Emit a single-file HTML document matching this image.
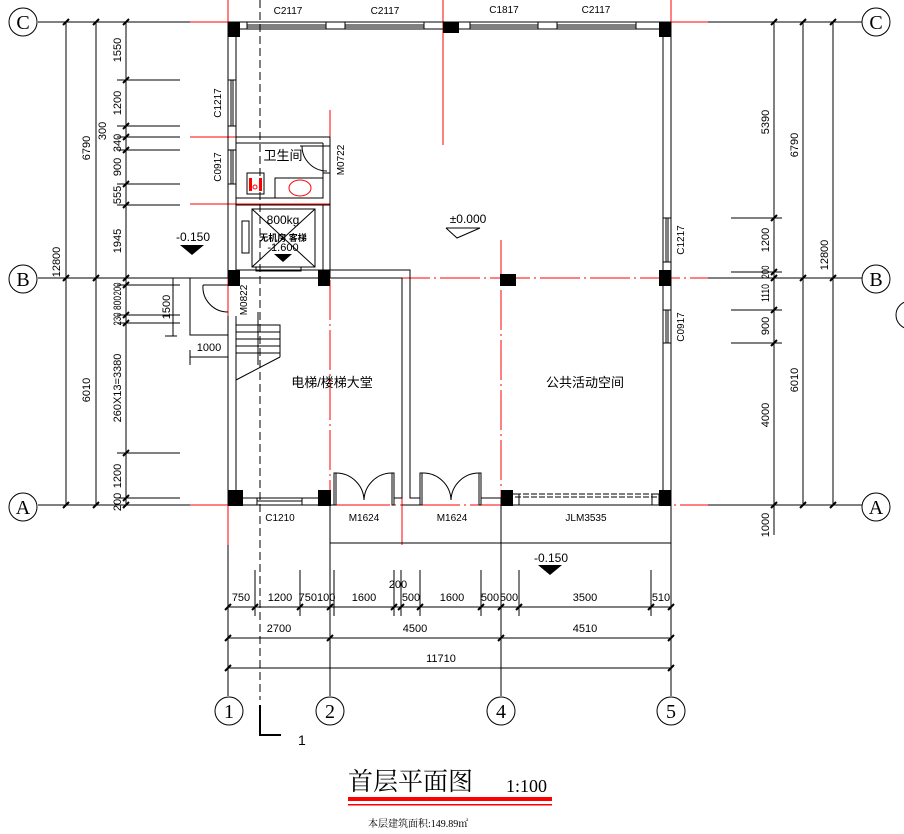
<!DOCTYPE html>
<html><head><meta charset="utf-8"><style>
html,body{margin:0;padding:0;background:#fff;}
svg{display:block;}
text{font-family:"Liberation Sans","Noto Sans CJK SC",sans-serif;fill:#000;}
.d{font-family:"Liberation Sans",sans-serif;font-size:11px;}
</style></head><body>
<svg width="904" height="834" viewBox="0 0 904 834" xmlns="http://www.w3.org/2000/svg">
<g stroke="#f00" stroke-width="1" fill="none">
<line x1="228" y1="0" x2="228" y2="545"/>
<line x1="671" y1="0" x2="671" y2="545"/>
<line x1="443" y1="0" x2="443" y2="145"/>
<line x1="330" y1="110" x2="330" y2="205"/>
<line x1="330" y1="280" x2="330" y2="505" stroke-dasharray="40,4,2,4"/>
<line x1="501" y1="240" x2="501" y2="505" stroke-dasharray="40,4,2,4"/>
<line x1="402" y1="280" x2="402" y2="545"/>
<line x1="190" y1="22" x2="228" y2="22"/>
<line x1="671" y1="22" x2="708" y2="22"/>
<line x1="190" y1="137" x2="330" y2="137"/>
<line x1="190" y1="204" x2="330" y2="204"/>
<line x1="240" y1="278" x2="708" y2="278" stroke-dasharray="40,4,2,4"/>
<line x1="190" y1="505" x2="708" y2="505" stroke-dasharray="60,4,2,4"/>
</g>
<line x1="260" y1="0" x2="260" y2="700" stroke="#000" stroke-dasharray="8,4"/>
<polyline points="260,705 260,735 281,735" stroke="#000" stroke-width="2" fill="none"/>
<text x="298" y="745" font-size="14">1</text>
<g stroke="#000" stroke-width="1" fill="none">
<line x1="228" y1="22" x2="671" y2="22"/><line x1="228" y1="29" x2="671" y2="29"/>
<line x1="228" y1="22" x2="228" y2="278"/><line x1="236" y1="22" x2="236" y2="278"/>
<line x1="663" y1="22" x2="663" y2="505"/><line x1="671" y1="22" x2="671" y2="505"/>
<line x1="228" y1="316" x2="228" y2="505"/><line x1="236" y1="316" x2="236" y2="505"/>
<line x1="228" y1="498" x2="330" y2="498"/><line x1="228" y1="505" x2="330" y2="505"/>
<rect x="247" y="22" width="79" height="7"/><line x1="247" y1="25" x2="326" y2="25"/><line x1="247" y1="27" x2="326" y2="27"/>
<rect x="345" y="22" width="79" height="7"/><line x1="345" y1="25" x2="424" y2="25"/><line x1="345" y1="27" x2="424" y2="27"/>
<rect x="470" y="22" width="68" height="7"/><line x1="470" y1="25" x2="538" y2="25"/><line x1="470" y1="27" x2="538" y2="27"/>
<rect x="557" y="22" width="79" height="7"/><line x1="557" y1="25" x2="636" y2="25"/><line x1="557" y1="27" x2="636" y2="27"/>
<rect x="228" y="80" width="8" height="46"/><line x1="231" y1="80" x2="231" y2="126"/><line x1="233" y1="80" x2="233" y2="126"/>
<rect x="228" y="150" width="8" height="34"/><line x1="231" y1="150" x2="231" y2="184"/><line x1="233" y1="150" x2="233" y2="184"/>
<rect x="663" y="218" width="8" height="44"/><line x1="666" y1="218" x2="666" y2="262"/><line x1="668" y1="218" x2="668" y2="262"/>
<rect x="663" y="310" width="8" height="33"/><line x1="666" y1="310" x2="666" y2="343"/><line x1="668" y1="310" x2="668" y2="343"/>
<rect x="257" y="498" width="45" height="7"/><line x1="257" y1="501" x2="302" y2="501"/>
<line x1="236" y1="137" x2="330" y2="137"/><line x1="236" y1="143" x2="323" y2="143"/>
<line x1="323" y1="143" x2="323" y2="198"/><line x1="330" y1="137" x2="330" y2="278"/>
<line x1="236" y1="198" x2="323" y2="198"/><line x1="236" y1="205" x2="330" y2="205"/>
<line x1="300" y1="146" x2="330" y2="146"/>
<path d="M302,146 A25,25 0 0 0 327,171"/><line x1="323" y1="173" x2="330" y2="173"/>
<rect x="275" y="178" width="48" height="20"/>
<rect x="247" y="173" width="17" height="21"/>
<line x1="323" y1="205" x2="323" y2="270"/>
<rect x="252" y="209" width="63" height="58"/>
<line x1="252" y1="209" x2="315" y2="267"/><line x1="315" y1="209" x2="252" y2="267"/>
<rect x="242" y="221" width="7" height="32"/>
<line x1="236" y1="270" x2="330" y2="270"/>
<rect x="256" y="267" width="45" height="4"/>
<line x1="236" y1="278" x2="330" y2="278"/>
<polyline points="330,270 410,270 410,498 420,498"/>
<polyline points="330,278 402,278 402,498 394,498"/>
<line x1="402" y1="505" x2="420" y2="505"/><line x1="420" y1="498" x2="420" y2="505"/>
<line x1="330" y1="505" x2="334" y2="505"/>
<rect x="334" y="473" width="2" height="32"/><rect x="392" y="473" width="2" height="32"/>
<path d="M336,473 A28,28 0 0 1 364,500"/><path d="M392,473 A28,28 0 0 0 364,500"/>
<rect x="420" y="473" width="2" height="32"/><rect x="479" y="473" width="2" height="32"/>
<path d="M422,473 A28,28 0 0 1 451,500"/><path d="M479,473 A28,28 0 0 0 451,500"/>
<polyline points="481,498 501,498 501,505"/>
<line x1="515" y1="494" x2="659" y2="494" stroke-dasharray="6,2"/>
<line x1="515" y1="497" x2="659" y2="497" stroke-dasharray="6,2"/>
<rect x="512" y="494" width="7" height="11"/><rect x="652" y="494" width="7" height="11"/>
<line x1="512" y1="505" x2="663" y2="505"/>
<polyline points="228,278 190,278 190,335 228,335"/>
<path d="M203,285 A25,25 0 0 0 228,312"/><line x1="203" y1="285" x2="228" y2="285"/>
<polyline points="236,325 280,325 280,357"/>
<line x1="236" y1="332" x2="280" y2="332"/><line x1="236" y1="339" x2="280" y2="339"/>
<line x1="236" y1="346" x2="280" y2="346"/><line x1="236" y1="353" x2="280" y2="353"/>
<line x1="280" y1="357" x2="236" y2="380"/>
<line x1="258" y1="312" x2="258" y2="365"/>
<line x1="330" y1="505" x2="330" y2="545"/><line x1="330" y1="543" x2="671" y2="543"/>
<line x1="671" y1="505" x2="671" y2="545"/><line x1="501" y1="505" x2="501" y2="696"/>
<line x1="330" y1="545" x2="330" y2="696"/>
<line x1="228" y1="545" x2="228" y2="696"/><line x1="671" y1="545" x2="671" y2="696"/>
</g>
<g fill="#f00">
<rect x="249" y="178" width="3" height="13"/><rect x="259" y="178" width="3" height="13"/>
</g>
<ellipse cx="300" cy="188" rx="11" ry="8" fill="none" stroke="#f00"/>
<circle cx="255" cy="187" r="2" fill="none" stroke="#f00"/>
<g fill="#000">
<rect x="228" y="22" width="12" height="15"/><rect x="443" y="22" width="16" height="11"/><rect x="659" y="22" width="12" height="15"/>
<rect x="228" y="270" width="12" height="16"/><rect x="318" y="270" width="12" height="16"/><rect x="500" y="274" width="16" height="12"/><rect x="659" y="270" width="12" height="16"/>
<rect x="228" y="490" width="15" height="16"/><rect x="318" y="490" width="13" height="16"/><rect x="501" y="490" width="12" height="16"/><rect x="659" y="490" width="12" height="16"/>
<polygon points="274,254 292,254 283,262"/>
<polygon points="180,245 204,245 192,255"/>
<polygon points="538,565 562,565 550,575"/>
</g>
<polyline points="446,228 480,228 457,238 446,228" fill="none" stroke="#000"/>
<g stroke="#000" stroke-width="1" fill="none">
<line x1="38" y1="22" x2="190" y2="22"/><line x1="38" y1="278" x2="190" y2="278"/><line x1="38" y1="505" x2="190" y2="505"/>
<line x1="708" y1="22" x2="862" y2="22"/><line x1="708" y1="278" x2="862" y2="278"/><line x1="708" y1="505" x2="862" y2="505"/>
<line x1="66" y1="22" x2="66" y2="505"/><line x1="96" y1="22" x2="96" y2="505"/><line x1="126" y1="22" x2="126" y2="505"/>
<line x1="774" y1="22" x2="774" y2="535"/><line x1="803" y1="22" x2="803" y2="505"/><line x1="833" y1="22" x2="833" y2="505"/>
<path d="M117,80H180M117,126H180M117,137H180M117,150H180M117,184H180M117,205H180M117,285H180M117,315H180M117,323H180M117,453H180M117,498H180"/>
<path d="M731,218H782M731,272H782M731,310H782M731,343H782"/>
<line x1="173" y1="278" x2="173" y2="336"/><line x1="165" y1="336" x2="177" y2="336"/>
<line x1="190" y1="357" x2="228" y2="357"/><line x1="190" y1="350" x2="190" y2="365"/>
<line x1="228" y1="607" x2="671" y2="607"/><line x1="228" y1="638" x2="671" y2="638"/><line x1="228" y1="668" x2="671" y2="668"/>
<path d="M255,570V616M300,570V616M334,570V616M394,570V616M401,570V616M420,570V616M481,570V616M519,570V616M651,570V616"/>
</g>
<g stroke="#000" stroke-width="2">
<path d="M63,25l6,-6M93,25l6,-6M123,25l6,-6M63,281l6,-6M93,281l6,-6M123,281l6,-6M63,508l6,-6M93,508l6,-6M123,508l6,-6"/>
<path d="M123,83l6,-6M123,129l6,-6M123,140l6,-6M123,153l6,-6M123,187l6,-6M123,208l6,-6M123,288l6,-6M123,318l6,-6M123,326l6,-6M123,456l6,-6M123,501l6,-6"/>
<path d="M771,25l6,-6M800,25l6,-6M830,25l6,-6M771,281l6,-6M800,281l6,-6M830,281l6,-6M771,508l6,-6M800,508l6,-6M830,508l6,-6M771,221l6,-6M771,275l6,-6M771,313l6,-6M771,346l6,-6"/>
<path d="M225,610l6,-6M252,610l6,-6M297,610l6,-6M327,610l6,-6M391,610l6,-6M398,610l6,-6M417,610l6,-6M478,610l6,-6M498,610l6,-6M516,610l6,-6M648,610l6,-6M668,610l6,-6"/>
<path d="M225,641l6,-6M327,641l6,-6M498,641l6,-6M668,641l6,-6M225,671l6,-6M668,671l6,-6"/>
</g>
<g fill="none" stroke="#000">
<circle cx="23" cy="22" r="14"/><circle cx="23" cy="279" r="14"/><circle cx="23" cy="507" r="14"/>
<circle cx="876" cy="22" r="14"/><circle cx="876" cy="279" r="14"/><circle cx="876" cy="507" r="14"/>
<circle cx="229" cy="711" r="14"/><circle cx="330" cy="711" r="14"/><circle cx="501" cy="711" r="14"/><circle cx="671" cy="711" r="14"/>
<circle cx="910" cy="315" r="14"/>
</g>
<g font-size="20" text-anchor="middle">
<text x="23" y="29" style="font-family:'Liberation Serif',serif">C</text><text x="23" y="286" style="font-family:'Liberation Serif',serif">B</text><text x="23" y="514" style="font-family:'Liberation Serif',serif">A</text>
<text x="876" y="29" style="font-family:'Liberation Serif',serif">C</text><text x="876" y="286" style="font-family:'Liberation Serif',serif">B</text><text x="876" y="514" style="font-family:'Liberation Serif',serif">A</text>
<text x="229" y="718" style="font-family:'Liberation Serif',serif">1</text><text x="330" y="718" style="font-family:'Liberation Serif',serif">2</text><text x="501" y="718" style="font-family:'Liberation Serif',serif">4</text><text x="671" y="718" style="font-family:'Liberation Serif',serif">5</text>
</g>
<g class="d" text-anchor="middle" font-size="10">
<text x="288" y="14" font-size="10">C2117</text><text x="385" y="14" font-size="10">C2117</text><text x="504" y="13" font-size="10">C1817</text><text x="596" y="13" font-size="10">C2117</text>
<text x="280" y="521" font-size="10">C1210</text><text x="364" y="521" font-size="10">M1624</text><text x="452" y="521" font-size="10">M1624</text><text x="586" y="521" font-size="10">JLM3535</text>
</g>
<g font-size="10" text-anchor="middle">
<text transform="translate(221,103) rotate(-90)">C1217</text>
<text transform="translate(221,167) rotate(-90)">C0917</text>
<text transform="translate(247,300) rotate(-90)">M0822</text>
<text transform="translate(344,160) rotate(-90)">M0722</text>
<text transform="translate(684,240) rotate(-90)">C1217</text>
<text transform="translate(684,327) rotate(-90)">C0917</text>
</g>
<g font-size="11" text-anchor="middle">
<text transform="translate(121,50) rotate(-90)">1550</text>
<text transform="translate(121,103) rotate(-90)">1200</text>
<text transform="translate(106,131) rotate(-90)">300</text>
<text transform="translate(121,143) rotate(-90)">340</text>
<text transform="translate(121,167) rotate(-90)">900</text>
<text transform="translate(121,195) rotate(-90)">555</text>
<text transform="translate(121,241) rotate(-90)">1945</text>
<text transform="translate(121,289) rotate(-90)" textLength="13" lengthAdjust="spacingAndGlyphs">200</text>
<text transform="translate(121,303) rotate(-90)" textLength="14" lengthAdjust="spacingAndGlyphs">800</text>
<text transform="translate(121,319) rotate(-90)" textLength="13" lengthAdjust="spacingAndGlyphs">230</text>
<text transform="translate(121,388) rotate(-90)">260X13=3380</text>
<text transform="translate(121,476) rotate(-90)">1200</text>
<text transform="translate(121,502) rotate(-90)">200</text>
<text transform="translate(90,148) rotate(-90)">6790</text>
<text transform="translate(90,390) rotate(-90)">6010</text>
<text transform="translate(60,262) rotate(-90)">12800</text>
<text transform="translate(170,307) rotate(-90)">1500</text>
<text x="209" y="351">1000</text>
<text transform="translate(769,122) rotate(-90)">5390</text>
<text transform="translate(769,240) rotate(-90)">1200</text>
<text transform="translate(769,272) rotate(-90)" textLength="13" lengthAdjust="spacingAndGlyphs">200</text>
<text transform="translate(769,293) rotate(-90)" textLength="18" lengthAdjust="spacingAndGlyphs">1110</text>
<text transform="translate(769,326) rotate(-90)">900</text>
<text transform="translate(769,415) rotate(-90)">4000</text>
<text transform="translate(769,525) rotate(-90)">1000</text>
<text transform="translate(798,145) rotate(-90)">6790</text>
<text transform="translate(798,380) rotate(-90)">6010</text>
<text transform="translate(828,255) rotate(-90)">12800</text>
<text x="241" y="601">750</text><text x="280" y="601">1200</text><text x="317" y="601">750100</text>
<text x="364" y="601">1600</text><text x="398" y="588">200</text><text x="411" y="601">500</text>
<text x="452" y="601">1600</text><text x="490" y="601">500</text><text x="509" y="601">500</text>
<text x="585" y="601">3500</text><text x="661" y="601">510</text>
<text x="279" y="632">2700</text><text x="415" y="632">4500</text><text x="585" y="632">4510</text>
<text x="441" y="662">11710</text>
<text x="193" y="241" font-size="12">-0.150</text>
<text x="551" y="562" font-size="12">-0.150</text>
<text x="468" y="223" font-size="12">±0.000</text>
<text x="283" y="224" font-size="12">800kg</text>
<text x="283" y="251" font-size="11">-1.600</text>
</g>
<g text-anchor="middle">
<text x="283" y="160" font-size="13">卫生间</text>
<text x="283" y="241" font-size="9" font-weight="bold">无机房 客梯</text>
<text x="332" y="387" font-size="13">电梯/楼梯大堂</text>
<text x="585" y="387" font-size="13">公共活动空间</text>
</g>
<text x="348" y="790" font-size="25" style="font-family:'Liberation Serif','Noto Serif CJK SC',serif">首层平面图</text>
<text x="506" y="792" font-size="18" style="font-family:'Liberation Serif',serif">1:100</text>
<rect x="348" y="797" width="204" height="4" fill="#f00"/>
<rect x="348" y="804" width="204" height="1.5" fill="#f00"/>
<text x="368" y="827" font-size="10" style="font-family:'Liberation Serif','Noto Serif CJK SC',serif">本层建筑面积:149.89㎡</text>
</svg>
</body></html>
